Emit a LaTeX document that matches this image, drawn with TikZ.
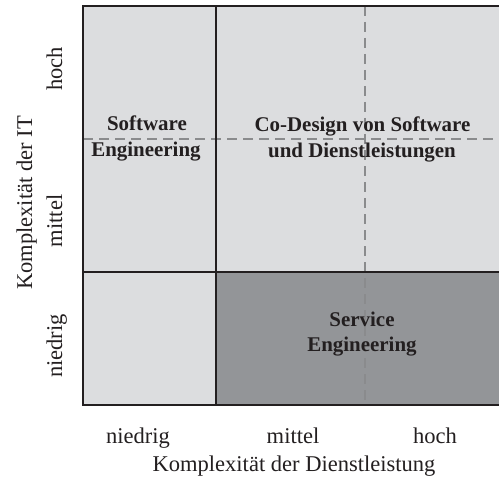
\documentclass[tikz,border=0pt]{standalone}
\usepackage{fontspec}
\setmainfont{Liberation Serif}
\begin{document}
\begin{tikzpicture}[x=1bp,y=-1bp,
  gridline/.style={line width=2.4bp,draw=inkdark},
  guideline/.style={line width=2.4bp,draw=guidegray,dash pattern=on 10bp off 6bp},
  axislabel/.style={text=inkdark,inner sep=0pt,anchor=base,font=\fontsize{22.6}{27}\selectfont},
  celllabel/.style={text=inkdark,inner sep=0pt,anchor=base,font=\fontsize{21}{26}\selectfont\bfseries}]
\definecolor{inkdark}{RGB}{35,31,32}
\definecolor{lightcell}{RGB}{220,221,223}
\definecolor{darkcell}{RGB}{147,149,152}
\definecolor{guidegray}{RGB}{138,139,141}
\useasboundingbox (0,0) rectangle (499,479);
\fill[white] (0,0) rectangle (499,479);
\begin{scope}
\clip (0,0) rectangle (499,479);
% cell areas
\fill[lightcell] (83,6) rectangle (505,405);
\fill[darkcell] (216,272) rectangle (505,405);
% dashed guides
\coordinate (gvTop) at (365,6);
\coordinate (gvBot) at (365,405);
\coordinate (ghL) at (83,139);
\coordinate (ghR) at (505,139);
\draw[guideline] (gvTop) -- (gvBot);
\draw[guideline] (ghL) -- (ghR);
% matrix frame and dividers
\coordinate (tl) at (83,6);
\coordinate (tr) at (505,6);
\coordinate (bl) at (83,405);
\coordinate (br) at (505,405);
\coordinate (vTop) at (216,6);
\coordinate (vBot) at (216,405);
\coordinate (hL) at (83,272);
\coordinate (hR) at (505,272);
\draw[gridline] (tr) -- (tl) -- (bl) -- (br);
\draw[gridline] (vTop) -- (vBot);
\draw[gridline] (hL) -- (hR);
\end{scope}
% cell labels
\node[celllabel] (swA) at (147,130.5) {Software};
\node[celllabel] (swB) at (146,157) {Engineering};
\node[celllabel] (coA) at (362.5,131.5) {Co-Design von Software};
\node[celllabel] (coB) at (362,158) {und Dienstleistungen};
\node[celllabel] (seA) at (362,326) {Service};
\node[celllabel] (seB) at (362,351.7) {Engineering};
% vertical axis
\node[axislabel,rotate=90] (yHoch) at (62,69) {hoch};
\node[axislabel,rotate=90] (yMittel) at (62,221) {mittel};
\node[axislabel,rotate=90] (yNiedrig) at (62,346) {niedrig};
\node[axislabel,rotate=90] (yTitle) at (32,203) {Komplexität der IT};
% horizontal axis
\node[axislabel] (xNiedrig) at (138,443) {niedrig};
\node[axislabel] (xMittel) at (293,443) {mittel};
\node[axislabel] (xHoch) at (435,443) {hoch};
\node[axislabel] (xTitle) at (294,471.7) {Komplexität der Dienstleistung};
\end{tikzpicture}
\end{document}
